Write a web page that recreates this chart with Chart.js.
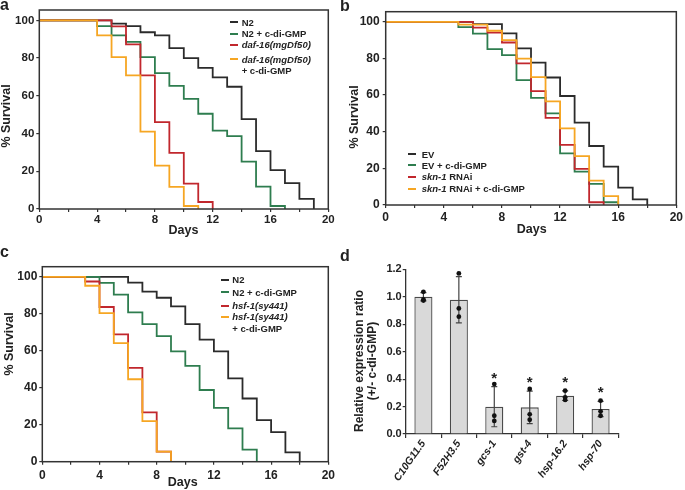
<!DOCTYPE html>
<html>
<head>
<meta charset="utf-8">
<script src="https://cdn.jsdelivr.net/npm/chart.js@4.4.1/dist/chart.umd.min.js"></script>
<style>
  html, body { margin: 0; padding: 0; background: #fff; }
  body {
    position: relative; width: 685px; height: 490px; overflow: hidden;
    font-family: "Liberation Sans", Arial, sans-serif; font-weight: bold; color: #222;
  }
  canvas { position: absolute; }
  .t   { position: absolute; white-space: nowrap; line-height: 1; }
  .rot { transform: translate(-50%, -50%) rotate(-90deg); }
  .ctr { transform: translate(-50%, -50%); }
  .letter { font-size: 16px; }
  .title  { font-size: 12.5px; }
  .lg { position: absolute; font-size: 9.5px; line-height: 11px; white-space: nowrap; }
  .sw { position: absolute; left: 0; top: 4.5px; width: 8px; height: 2px; }
</style>
</head>
<body>

<canvas id="chartA" width="340" height="245" style="left:0;top:0"></canvas>
<canvas id="chartB" width="345" height="245" style="left:340px;top:0"></canvas>
<canvas id="chartC" width="340" height="245" style="left:0;top:245px"></canvas>
<canvas id="chartD" width="345" height="245" style="left:340px;top:245px"></canvas>

<!-- panel letters -->
<div class="t letter" style="left:0;top:-3px">a</div>
<div class="t letter" style="left:340px;top:-2px">b</div>
<div class="t letter" style="left:0;top:244px">c</div>
<div class="t letter" style="left:340px;top:248px">d</div>

<!-- axis titles -->
<div class="t title rot" style="left:6px;top:116px">% Survival</div>
<div class="t title ctr" style="left:183.5px;top:229.5px">Days</div>
<div class="t title rot" style="left:353.5px;top:116.5px">% Survival</div>
<div class="t title ctr" style="left:531.7px;top:229.3px">Days</div>
<div class="t title rot" style="left:8.5px;top:344px">% Survival</div>
<div class="t title ctr" style="left:182.7px;top:482.3px">Days</div>
<div class="t rot" style="left:365.8px;top:360.8px;font-size:12px;line-height:13px;text-align:center">Relative expression ratio<br>(+/- c-di-GMP)</div>

<!-- legends -->
<div class="lg" style="left:230px;top:16.8px"><span class="sw" style="background:#2b2b2b"></span><span style="margin-left:11.7px">N2</span></div>
<div class="lg" style="left:230px;top:28.2px"><span class="sw" style="background:#2e7d4f"></span><span style="margin-left:11.7px">N2 + c-di-GMP</span></div>
<div class="lg" style="left:230px;top:39.2px"><span class="sw" style="background:#c1272d"></span><span style="margin-left:11.7px"><i>daf-16(mgDf50)</i></span></div>
<div class="lg" style="left:230px;top:53.8px"><span class="sw" style="background:#f6a623"></span><span style="margin-left:11.7px"><i>daf-16(mgDf50)</i></span></div>
<div class="lg" style="left:230px;top:65.2px"><span style="margin-left:11.7px">+ c-di-GMP</span></div>

<div class="lg" style="left:408px;top:148.5px"><span class="sw" style="background:#2b2b2b"></span><span style="margin-left:13.7px">EV</span></div>
<div class="lg" style="left:408px;top:159.8px"><span class="sw" style="background:#2e7d4f"></span><span style="margin-left:13.7px">EV + c-di-GMP</span></div>
<div class="lg" style="left:408px;top:171.2px"><span class="sw" style="background:#c1272d"></span><span style="margin-left:13.7px"><i>skn-1</i> RNAi</span></div>
<div class="lg" style="left:408px;top:183.2px"><span class="sw" style="background:#f6a623"></span><span style="margin-left:13.7px"><i>skn-1</i> RNAi + c-di-GMP</span></div>

<div class="lg" style="left:220.7px;top:274.2px"><span class="sw" style="background:#2b2b2b"></span><span style="margin-left:11.6px">N2</span></div>
<div class="lg" style="left:220.7px;top:286.5px"><span class="sw" style="background:#2e7d4f"></span><span style="margin-left:11.6px">N2 + c-di-GMP</span></div>
<div class="lg" style="left:220.7px;top:300.2px"><span class="sw" style="background:#c1272d"></span><span style="margin-left:11.6px"><i>hsf-1(sy441)</i></span></div>
<div class="lg" style="left:220.7px;top:311.2px"><span class="sw" style="background:#f6a623"></span><span style="margin-left:11.6px"><i>hsf-1(sy441)</i></span></div>
<div class="lg" style="left:220.7px;top:322.8px"><span style="margin-left:11.6px">+ c-di-GMP</span></div>

<script>
// ---- data ------------------------------------------------------------
// survival (%) on each day, index = day; value holds until the next day
const dayTicks      = [0, 2, 4, 6, 8, 10, 12, 14, 16, 18, 20];
const dayTickLabels = ["0", "", "4", "", "8", "", "12", "", "16", "", "20"];
const survivalTicks = [0, 20, 40, 60, 80, 100];

// a: daf-16
const aN2       = [100,100,100,100,100,98.3,97,93.7,92,85.3,80,74.8,69.8,64.8,47.6,30.7,20.6,13.7,5.4,0];
const aN2Gmp    = [100,100,100,100,96.9,92,88.6,80.5,72,65.3,58.4,50.5,41.6,38.6,25.1,11.9,1.6,0];
const aDaf16    = [100,100,100,100,100,96.8,87.3,70.8,46.1,29.8,13.4,3.7,0];
const aDaf16Gmp = [100,100,100,100,92,80.5,70.8,41,23,11.7,1.6,0];

// b: skn-1 RNAi
const bEV       = [100,100,100,100,100,100,98.7,98.7,93.7,85.5,77.7,69.6,59.5,45,32.2,20.9,9.5,3.1,0];
const bEVGmp    = [100,100,100,100,100,97.1,93.5,85.1,81.8,68.2,58.5,50,28.2,18.2,11.5,1.5,0];
const bSkn1     = [100,100,100,100,100,100,96.8,94.1,88.7,77.3,62.2,47.5,32.8,19.7,1.5,0];
const bSkn1Gmp  = [100,100,100,100,100,98.4,98.4,95.1,90,79.9,69.8,56.6,41.8,26.7,13.3,4.8,0];

// c: hsf-1
const cN2       = [100,100,100,100,100,100,96.9,92,88.7,84,74.4,66,59.7,45.1,34.2,22.5,16,5,0];
const cN2Gmp    = [100,100,100,100,96.7,90.4,80.8,74.4,67.9,59.7,51.8,38.8,29.1,18,6.5,0];
const cHsf1     = [100,100,100,97.5,83.7,68.9,50.8,26.7,5.5,0];
const cHsf1Gmp  = [100,100,100,95.2,80.4,64.2,44.6,22,5.5,0];

// d: qPCR
const genes       = ["C10G11.5", "F52H3.5", "gcs-1", "gst-4", "hsp-16.2", "hsp-70"];
const meanRatio   = [1.0, 0.978, 0.199, 0.194, 0.279, 0.182];
const sdRatio     = [0.03, 0.168, 0.146, 0.118, 0.035, 0.056];
const replicates  = [
  [1.036, 0.98, 0.972],
  [1.17, 0.915, 0.855],
  [0.364, 0.133, 0.095],
  [0.328, 0.143, 0.104],
  [0.316, 0.267, 0.248],
  [0.243, 0.165, 0.133],
];
const sigMarks    = ["", "", "*", "*", "*", "*"];
const ratioTicks      = [0, 0.2, 0.4, 0.6, 0.8, 1.0, 1.2];
const ratioTickLabels = ["0.0", "0.2", "0.4", "0.6", "0.8", "1.0", "1.2"];

const COLORS = ["#2b2b2b", "#2e7d4f", "#c1272d", "#f6a623"];

// ---- helpers ---------------------------------------------------------
Chart.defaults.font.family = '"Liberation Sans", Arial, sans-serif';
Chart.defaults.font.weight = "bold";
Chart.defaults.color = "#222";

const frame = {
  id: "frame",
  afterDraw(chart) {
    const { ctx, chartArea: a } = chart;
    ctx.save();
    ctx.strokeStyle = "#333";
    ctx.lineWidth = 1.5;
    ctx.strokeRect(a.left, a.top, a.right - a.left, a.bottom - a.top);
    ctx.restore();
  },
};

function survivalChart(id, series, box) {
  return new Chart(document.getElementById(id), {
    type: "line",
    data: {
      datasets: series.map((vals, k) => ({
        data: vals.map((v, d) => ({ x: d, y: v })),
        borderColor: COLORS[k],
        borderWidth: 1.8,
        stepped: "before",
        pointRadius: 0,
        fill: false,
        order: series.length - 1 - k,
      })),
    },
    options: {
      responsive: false,
      animation: false,
      events: [],
      layout: { padding: { left: 0, top: box.top, right: box.right, bottom: 0 } },
      plugins: { legend: { display: false }, tooltip: { enabled: false } },
      scales: {
        x: {
          type: "linear", min: 0, max: 20,
          afterBuildTicks: (s) => { s.ticks = dayTicks.map((v) => ({ value: v })); },
          afterFit: (s) => { s.height = box.xh; },
          ticks: {
            callback: (v, i) => dayTickLabels[i],
            autoSkip: false, maxRotation: 0,
            padding: box.xpad,
            font: { size: box.font },
          },
          grid: { drawOnChartArea: false, tickLength: 3, color: "#333", lineWidth: 1.2 },
          border: { display: false },
        },
        y: {
          min: 0, max: 105.5,
          afterBuildTicks: (s) => { s.ticks = survivalTicks.map((v) => ({ value: v })); },
          afterFit: (s) => { s.width = box.yw; },
          ticks: { padding: box.ypad, font: { size: box.font } },
          grid: { drawOnChartArea: false, tickLength: 3, color: "#333", lineWidth: 1.2 },
          border: { display: false },
        },
      },
    },
    plugins: [frame],
  });
}

// ---- panels a, b, c --------------------------------------------------
survivalChart("chartA", [aN2, aN2Gmp, aDaf16, aDaf16Gmp],
  { yw: 39.3, xh: 36, top: 10, right: 11.7, font: 11.5, xpad: 1, ypad: 2 });
survivalChart("chartB", [bEV, bEVGmp, bSkn1, bSkn1Gmp],
  { yw: 45.7, xh: 40, top: 11.7, right: 7.3, font: 12, xpad: 2, ypad: 3 });
survivalChart("chartC", [cN2, cN2Gmp, cHsf1, cHsf1Gmp],
  { yw: 42.3, xh: 28.3, top: 21.7, right: 11.7, font: 12, xpad: 4, ypad: 2 });

// ---- panel d ---------------------------------------------------------
const errorBars = {
  id: "errorBars",
  afterDatasetDraw(chart, args) {
    if (args.index !== 0) return;
    const { ctx, scales: { y } } = chart;
    const meta = chart.getDatasetMeta(0);
    ctx.save();
    ctx.strokeStyle = "#444";
    ctx.lineWidth = 1.2;
    meta.data.forEach((bar, i) => {
      const hi = y.getPixelForValue(meanRatio[i] + sdRatio[i]);
      const lo = y.getPixelForValue(meanRatio[i] - sdRatio[i]);
      ctx.beginPath();
      ctx.moveTo(bar.x, hi); ctx.lineTo(bar.x, lo);
      ctx.moveTo(bar.x - 3, hi); ctx.lineTo(bar.x + 3, hi);
      ctx.moveTo(bar.x - 3, lo); ctx.lineTo(bar.x + 3, lo);
      ctx.stroke();
    });
    ctx.restore();
  },
  afterDatasetsDraw(chart) {
    const { ctx, scales: { y } } = chart;
    const meta = chart.getDatasetMeta(0);
    ctx.save();
    ctx.fillStyle = "#222";
    ctx.font = 'bold 15px "Liberation Sans", Arial, sans-serif';
    ctx.textAlign = "center";
    ctx.textBaseline = "alphabetic";
    meta.data.forEach((bar, i) => {
      if (!sigMarks[i]) return;
      ctx.fillText(sigMarks[i], bar.x, y.getPixelForValue(meanRatio[i] + sdRatio[i]) - 4);
    });
    ctx.restore();
  },
};

new Chart(document.getElementById("chartD"), {
  type: "bar",
  data: {
    labels: genes,
    datasets: [
      {
        type: "bar",
        data: meanRatio,
        backgroundColor: "#d9d9d9",
        borderColor: "#4a4a4a",
        borderWidth: 1.3,
        barPercentage: 0.51,
        categoryPercentage: 1,
        order: 1,
      },
      {
        type: "line",
        data: replicates.flatMap((r, i) => r.map((v) => ({ x: genes[i], y: v }))),
        showLine: false,
        pointRadius: 2.4,
        pointBackgroundColor: "#111",
        pointBorderWidth: 0,
        order: 0,
      },
    ],
  },
  options: {
    responsive: false,
    animation: false,
    events: [],
    layout: { padding: { left: 0, top: 24.3, right: 66.7, bottom: 0 } },
    plugins: { legend: { display: false }, tooltip: { enabled: false } },
    scales: {
      x: {
        afterFit: (s) => { s.height = 56; },
        ticks: {
          autoSkip: false, minRotation: 55, maxRotation: 55, padding: 0,
          font: { size: 10.5, style: "italic" },
        },
        grid: { offset: true, drawOnChartArea: false, tickLength: 4, color: "#333", lineWidth: 1.2 },
        border: { color: "#333", width: 1.3 },
      },
      y: {
        min: 0, max: 1.2,
        afterBuildTicks: (s) => { s.ticks = ratioTicks.map((v) => ({ value: v })); },
        afterFit: (s) => { s.width = 65.7; },
        ticks: { callback: (v, i) => ratioTickLabels[i], padding: 1, font: { size: 11 } },
        grid: { drawOnChartArea: false, tickLength: 3, color: "#333", lineWidth: 1.2 },
        border: { color: "#333", width: 1.3 },
      },
    },
  },
  plugins: [errorBars],
});
</script>
</body>
</html>
